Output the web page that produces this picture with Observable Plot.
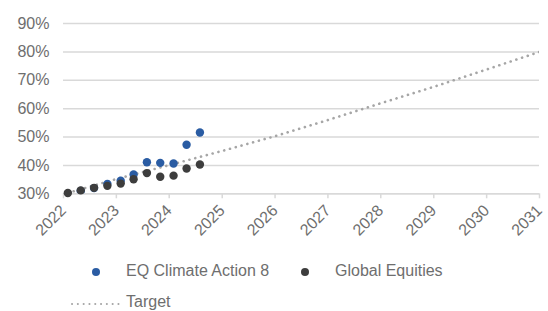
<!DOCTYPE html>
<html>
<head>
<meta charset="utf-8">
<script src="https://cdn.jsdelivr.net/npm/d3@7"></script>
<script src="https://cdn.jsdelivr.net/npm/@observablehq/plot@0.6"></script>
<style>
  html, body { margin: 0; padding: 0; background: #fff; }
  #wrap { position: relative; width: 548px; height: 311px; font-family: "Liberation Sans", Arial, sans-serif; }
  .leg { position: absolute; font-size: 16px; color: #6e6e6e; line-height: 18px; white-space: nowrap; }
  .leg svg { position: absolute; }
</style>
</head>
<body>
<div id="wrap"></div>
<script>
// Quarterly observation dates
const obsDates = ["2022-01-31","2022-04-30","2022-07-31","2022-10-31","2023-01-31","2023-04-30",
                  "2023-07-31","2023-10-31","2024-01-31","2024-04-30","2024-07-31"];
// Series values (%)
const climateAction8 = [29.8, 31.0, 32.0, 33.5, 34.6, 36.8, 41.1, 40.9, 40.7, 47.3, 51.6];
const globalEquities = [30.3, 31.2, 32.1, 32.8, 33.6, 35.1, 37.3, 36.0, 36.4, 38.9, 40.3];
// Target path (%)
const targetDates = ["2022-01-31","2023-01-01","2024-01-01","2025-01-01","2026-01-01","2027-01-01",
                     "2028-01-01","2029-01-01","2030-01-01","2031-01-01"];
const targetValues = [30.3, 35.2, 40.1, 45.1, 50.3, 56.0, 61.9, 67.7, 73.8, 80.0];
const yTicks = [30, 40, 50, 60, 70, 80, 90];
const seriesNames = ["EQ Climate Action 8", "Global Equities", "Target"];
const colors = ["#2a5ca3", "#3d3d3d", "#a6a6a6"];

const parse = d3.utcParse("%Y-%m-%d");
const ca8 = obsDates.map((d, i) => ({date: parse(d), value: climateAction8[i]}));
const geq = obsDates.map((d, i) => ({date: parse(d), value: globalEquities[i]}));
const tgt = targetDates.map((d, i) => ({date: parse(d), value: targetValues[i]}));

const chart = Plot.plot({
  width: 548,
  height: 250,
  marginTop: 23,
  marginBottom: 56.7,
  marginLeft: 63,
  marginRight: 9,
  style: {fontFamily: "Liberation Sans, Arial, sans-serif", fontSize: "16px", color: "#6e6e6e", background: "#fff", overflow: "visible"},
  x: {type: "utc", domain: [parse("2022-01-01"), parse("2031-01-01")]},
  y: {domain: [30, 90]},
  marks: [
    Plot.gridY(yTicks, {stroke: "#d9d9d9", strokeOpacity: 1, strokeWidth: 1.5}),
    Plot.ruleY([30], {stroke: "#d9d9d9", strokeWidth: 1.5}),
    Plot.axisY({ticks: yTicks, tickFormat: d => d + "%", tickSize: 0, tickPadding: 14, fill: "#6e6e6e", fontSize: 16, label: null}),
    Plot.axisX({ticks: d3.utcYear.every(1), tickFormat: d3.utcFormat("%Y"), tickRotate: -45, tickSize: 5, stroke: "#d9d9d9", strokeWidth: 1.5, tickPadding: 9, fill: "#6e6e6e", fontSize: 16, label: null}),
    Plot.line(tgt, {x: "date", y: "value", stroke: colors[2], strokeWidth: 2.6, strokeDasharray: "0.1,5.9", strokeLinecap: "round", clip: true}),
    Plot.dot(ca8, {x: "date", y: "value", r: 4.2, fill: colors[0], stroke: "none", clip: true}),
    Plot.dot(geq, {x: "date", y: "value", r: 4.2, fill: colors[1], stroke: "none"})
  ]
});

const wrap = document.getElementById("wrap");
chart.style.position = "absolute";
chart.style.left = "0px";
chart.style.top = "0px";
wrap.appendChild(chart);

function legendItem(left, top, swatch, text) {
  const div = document.createElement("div");
  div.className = "leg";
  div.style.left = left + "px";
  div.style.top = top + "px";
  div.innerHTML = swatch + `<span style="position:absolute;left:0;top:0">${text}</span>`;
  wrap.appendChild(div);
}
const dotSw = c => `<svg width="10" height="10" style="left:-35px;top:5px"><circle cx="5" cy="5" r="4" fill="${c}"/></svg>`;
legendItem(126, 262, dotSw(colors[0]), seriesNames[0]);
legendItem(335, 262, dotSw(colors[1]), seriesNames[1]);
legendItem(126, 293, `<svg width="56" height="6" style="left:-56px;top:8px"><line x1="2" y1="3" x2="54" y2="3" stroke="${colors[2]}" stroke-width="2" stroke-linecap="round" stroke-dasharray="0.1,5.7"/></svg>`, seriesNames[2]);
</script>
</body>
</html>
